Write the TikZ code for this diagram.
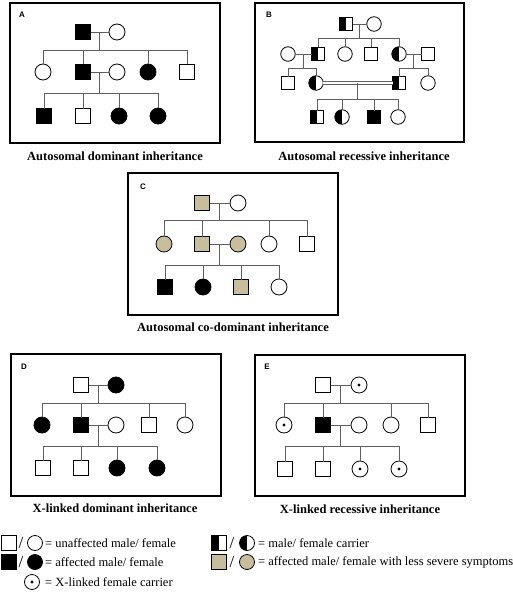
\documentclass[tikz,border=0pt]{standalone}
\usepackage{fontspec}
\setmainfont{Liberation Serif}
\setsansfont{Liberation Sans}
\usetikzlibrary{calc}

\definecolor{mildtan}{RGB}{200,190,158}
\definecolor{linkgray}{RGB}{95,95,95}

\tikzset{
    sym/.style={draw=black, line width=0.8pt, inner sep=0pt, outer sep=0pt},
    male/.style={sym, rectangle, minimum size=15pt},
    female/.style={sym, circle, minimum size=16pt},
    aff/.style={fill=black},
    mild/.style={fill=mildtan},
    carrier/.style={path picture={\fill[black] (path picture bounding box.south west) rectangle (path picture bounding box.north);}},
    xcarrier/.style={path picture={\fill[black] (path picture bounding box.center) circle (1.6pt);}},
    link/.style={draw=linkgray, line width=0.8pt},
    panel/.style={draw=black, line width=2.2pt},
    tag/.style={font=\sffamily\bfseries\fontsize{8}{9}\selectfont},
    caption/.style={font=\bfseries\fontsize{12.5}{14}\selectfont},
    legend/.style={font=\fontsize{12.5}{14}\selectfont, anchor=west, inner sep=0pt},
    slash/.style={font=\fontsize{17}{18}\selectfont, inner sep=0pt}
}

\begin{document}
\begin{tikzpicture}[x=1pt, y=-1pt]
    \useasboundingbox (0,0) rectangle (512,594);

    % panel frames
    \draw[panel] (10,3) rectangle (220,143);
    \draw[panel] (255,3) rectangle (464,142);
    \draw[panel] (128,173) rectangle (338,315);
    \draw[panel] (11,354) rectangle (221,496);
    \draw[panel] (255,355) rectangle (465,496);

    \node[tag] at (22,15) {A};
    \node[tag] at (269,15) {B};
    \node[tag] at (143,187) {C};
    \node[tag] at (24,367) {D};
    \node[tag] at (267,367) {E};

    \node[caption] (capA) at (115,156) {Autosomal dominant inheritance};
    \node[caption] (capB) at (364,156) {Autosomal recessive inheritance};
    \node[caption] (capC) at (233,327) {Autosomal co-dominant inheritance};
    \node[caption] (capD) at (115,508) {X-linked dominant inheritance};
    \node[caption] (capE) at (360,509) {X-linked recessive inheritance};

    % A: autosomal dominant
    \node[male,aff] (A11) at (83,32) {};
    \node[female] (A12) at (117,32) {};
    \node[female] (A21) at (43,72) {};
    \node[male,aff] (A22) at (83,72) {};
    \node[female] (A23) at (117,72) {};
    \node[female,aff] (A24) at (148,72) {};
    \node[male] (A25) at (187,72) {};
    \node[male,aff] (A31) at (44,116) {};
    \node[male] (A32) at (83,116) {};
    \node[female,aff] (A33) at (119,116) {};
    \node[female,aff] (A34) at (158,116) {};

    \draw[link] (A11) -- (A12);
    \draw[link] ($(A11.east)!.5!(A12.west)$) -- ++(0,18) coordinate (As1);
    \foreach \c in {A21,A22,A24,A25} \draw[link] (As1) -| (\c);
    \draw[link] (A22) -- (A23);
    \draw[link] ($(A22.east)!.5!(A23.west)$) -- ++(0,21) coordinate (As2);
    \foreach \c in {A31,A32,A33,A34} \draw[link] (As2) -| (\c);

    % B: autosomal recessive
    \begin{scope}[male/.append style={minimum size=13pt},
                  female/.append style={minimum size=14.5pt}]
        \node[male,carrier] (B11) at (346,24) {};
        \node[female] (B12) at (374,24) {};
        \node[female] (B21) at (288,54) {};
        \node[male,carrier] (B22) at (318,54) {};
        \node[female] (B23) at (345,54) {};
        \node[male] (B24) at (371,54) {};
        \node[female,carrier] (B25) at (399,54) {};
        \node[male] (B26) at (428,54) {};
        \node[male] (B31) at (288,83) {};
        \node[female,carrier] (B32) at (316,83) {};
        \node[male,carrier] (B33) at (399,83) {};
        \node[female] (B34) at (428,83) {};
        \node[male,carrier] (B41) at (317,117) {};
        \node[female,carrier] (B42) at (342,117) {};
        \node[male,aff] (B43) at (374,117) {};
        \node[female] (B44) at (398,117) {};
    \end{scope}

    \draw[link] (B11) -- (B12);
    \draw[link] ($(B11.east)!.5!(B12.west)$) -- ++(0,14) coordinate (Bs1);
    \foreach \c in {B22,B23,B24,B25} \draw[link] (Bs1) -| (\c);
    \draw[link] (B21) -- (B22);
    \draw[link] ($(B21.east)!.5!(B22.west)$) -- ++(0,14) coordinate (Bs2);
    \foreach \c in {B31,B32} \draw[link] (Bs2) -| (\c);
    \draw[link] (B25) -- (B26);
    \draw[link] ($(B25.east)!.5!(B26.west)$) -- ++(0,14) coordinate (Bs3);
    \foreach \c in {B33,B34} \draw[link] (Bs3) -| (\c);
    \draw[link, line width=0.7pt, double=white, double distance=2pt] (B32) -- (B33);
    \draw[link] ($(B32.east)!.5!(B33.west)$) -- ++(0,16) coordinate (Bs4);
    \foreach \c in {B41,B42,B43,B44} \draw[link] (Bs4) -| (\c);

    % C: autosomal co-dominant
    \node[male,mild] (C11) at (202,203) {};
    \node[female] (C12) at (238,203) {};
    \node[female,mild] (C21) at (164,244) {};
    \node[male,mild] (C22) at (202,244) {};
    \node[female,mild] (C23) at (238,244) {};
    \node[female] (C24) at (269,244) {};
    \node[male] (C25) at (307,244) {};
    \node[male,aff] (C31) at (165,287) {};
    \node[female,aff] (C32) at (203,287) {};
    \node[male,mild] (C33) at (241,287) {};
    \node[female] (C34) at (279,287) {};

    \draw[link] (C11) -- (C12);
    \draw[link] ($(C11.east)!.5!(C12.west)$) -- ++(0,17) coordinate (Cs1);
    \foreach \c in {C21,C22,C24,C25} \draw[link] (Cs1) -| (\c);
    \draw[link] (C22) -- (C23);
    \draw[link] ($(C22.east)!.5!(C23.west)$) -- ++(0,21) coordinate (Cs2);
    \foreach \c in {C31,C32,C33,C34} \draw[link] (Cs2) -| (\c);

    % D: X-linked dominant
    \node[male] (D11) at (81,385) {};
    \node[female,aff] (D12) at (116,385) {};
    \node[female,aff] (D21) at (42,425) {};
    \node[male,aff] (D22) at (81,425) {};
    \node[female] (D23) at (116,425) {};
    \node[male] (D24) at (149,425) {};
    \node[female] (D25) at (185,425) {};
    \node[male] (D31) at (43,468) {};
    \node[male] (D32) at (81,468) {};
    \node[female,aff] (D33) at (117,468) {};
    \node[female,aff] (D34) at (157,468) {};

    \draw[link] (D11) -- (D12);
    \draw[link] ($(D11.east)!.5!(D12.west)$) -- ++(0,18) coordinate (Ds1);
    \foreach \c in {D21,D22,D24,D25} \draw[link] (Ds1) -| (\c);
    \draw[link] (D22) -- (D23);
    \draw[link] ($(D22.east)!.5!(D23.west)$) -- ++(0,21) coordinate (Ds2);
    \foreach \c in {D31,D32,D33,D34} \draw[link] (Ds2) -| (\c);

    % E: X-linked recessive
    \node[male] (E11) at (323,385) {};
    \node[female,xcarrier] (E12) at (359,385) {};
    \node[female,xcarrier] (E21) at (284,425) {};
    \node[male,aff] (E22) at (323,425) {};
    \node[female] (E23) at (359,425) {};
    \node[female] (E24) at (391,425) {};
    \node[male] (E25) at (428,425) {};
    \node[male] (E31) at (285,469) {};
    \node[male] (E32) at (323,469) {};
    \node[female,xcarrier] (E33) at (360,469) {};
    \node[female,xcarrier] (E34) at (399,469) {};

    \draw[link] (E11) -- (E12);
    \draw[link] ($(E11.east)!.5!(E12.west)$) -- ++(0,18) coordinate (Es1);
    \foreach \c in {E21,E22,E24,E25} \draw[link] (Es1) -| (\c);
    \draw[link] (E22) -- (E23);
    \draw[link] ($(E22.east)!.5!(E23.west)$) -- ++(0,21) coordinate (Es2);
    \foreach \c in {E31,E32,E33,E34} \draw[link] (Es2) -| (\c);

    % legend
    \begin{scope}[female/.append style={minimum size=15pt}]
        \node[male] (Lm1) at (8.5,543) {};
        \node[slash] (Ls1) at (21,543) {/};
        \node[female] (Lf1) at (35,543) {};
        \node[legend] (Lt1) at (45,543) {= unaffected male/ female};
        \node[male,aff] (Lm2) at (8.5,562) {};
        \node[slash] (Ls2) at (21,562) {/};
        \node[female,aff] (Lf2) at (35,562) {};
        \node[legend] (Lt2) at (45,562) {= affected male/ female};
        \node[female,xcarrier] (Lf3) at (32,582) {};
        \node[legend] (Lt3) at (45,582) {= X-linked female carrier};
        \node[male,carrier] (Lm4) at (219,543) {};
        \node[slash] (Ls4) at (232,543) {/};
        \node[female,carrier] (Lf4) at (247,543) {};
        \node[legend] (Lt4) at (258,543) {= male/ female carrier};
        \node[male,mild] (Lm5) at (219,562) {};
        \node[slash] (Ls5) at (232,562) {/};
        \node[female,mild] (Lf5) at (247,562) {};
        \node[legend] (Lt5) at (258,562) {= affected male/ female with less severe symptoms};
    \end{scope}
\end{tikzpicture}
\end{document}
